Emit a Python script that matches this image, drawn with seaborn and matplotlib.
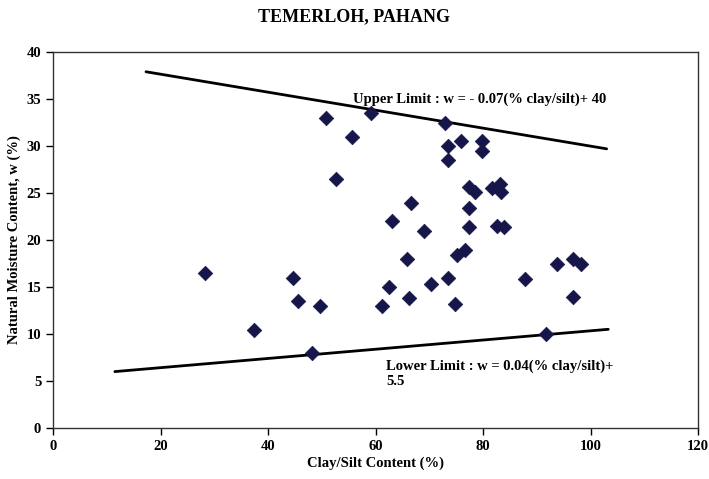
import matplotlib
matplotlib.use("Agg")
import matplotlib.pyplot as plt
import seaborn as sns
import pandas as pd

# clay/silt content (%) vs natural moisture content (%)
clay_silt = [28.3, 37.4, 44.7, 45.6, 48.2, 49.7, 50.8, 52.7, 55.6, 59.2,
             61.2, 62.5, 63.1, 65.9, 66.2, 66.6, 69.0, 70.3, 72.9, 73.5,
             73.5, 73.5, 74.8, 75.2, 75.9, 76.7, 77.4, 77.4, 77.4, 78.5,
             79.8, 79.8, 81.7, 82.6, 83.2, 83.3, 83.9, 87.8, 91.7, 93.8,
             96.7, 96.7, 98.2]
moisture = [16.5, 10.4, 16.0, 13.5, 8.0, 13.0, 33.0, 26.5, 31.0, 33.5,
            13.0, 15.0, 22.0, 18.0, 13.8, 23.9, 21.0, 15.3, 32.4, 30.0,
            28.5, 16.0, 13.2, 18.4, 30.5, 18.9, 25.6, 23.4, 21.4, 25.1,
            30.5, 29.5, 25.5, 21.5, 26.0, 25.1, 21.4, 15.9, 10.0, 17.4,
            13.9, 18.0, 17.4]

# limit lines as drawn in the figure (end points)
upper_x = [17.3, 103.0]
upper_y = [37.9, 29.7]
lower_x = [11.5, 103.3]
lower_y = [6.0, 10.5]

df = pd.DataFrame({"clay": clay_silt, "w": moisture})

sns.set_style("white")
plt.rcParams["font.family"] = ["Liberation Serif", "DejaVu Serif"]
plt.rcParams["font.weight"] = "bold"
plt.rcParams["text.color"] = "black"
plt.rcParams["axes.labelcolor"] = "black"

fig = plt.figure(figsize=(7.09, 4.79), dpi=100)
ax = fig.add_axes([0.0748, 0.1065, 0.9097, 0.7849])

sns.lineplot(x=upper_x, y=upper_y, ax=ax, color="black", linewidth=2)
sns.lineplot(x=lower_x, y=lower_y, ax=ax, color="black", linewidth=2)
sns.scatterplot(data=df, x="clay", y="w", ax=ax, marker="D", s=55,
                color="#16164a", edgecolor="#16164a", linewidth=0.5, zorder=3)

ax.set_xlim(0, 120)
ax.set_ylim(0, 40)
ax.set_xticks(range(0, 121, 20))
ax.set_yticks(range(0, 41, 5))
ax.tick_params(axis="both", direction="out", length=5, width=1, labelsize=10.5,
               left=True, bottom=True, colors="black")
for lab in ax.get_xticklabels() + ax.get_yticklabels():
    lab.set_fontweight("bold")
for sp in ax.spines.values():
    sp.set_color("#333333")
    sp.set_linewidth(1)

ax.set_xlabel("Clay/Silt Content (%)", fontsize=10.5, fontweight="bold", labelpad=3)
ax.set_ylabel("Natural Moisture Content, w (%)", fontsize=10.5, fontweight="bold", labelpad=4)

ax.text(55.8, 35.0, "Upper Limit : w = - 0.07(% clay/silt)+ 40",
        fontsize=10.5, fontweight="bold", va="center")
ax.text(62.0, 6.6, "Lower Limit : w = 0.04(% clay/silt)+",
        fontsize=10.5, fontweight="bold", va="center")
ax.text(62.0, 4.9, "5.5", fontsize=10.5, fontweight="bold", va="center")

fig.text(0.5, 0.965, "TEMERLOH, PAHANG", ha="center", va="center",
         fontsize=13, fontweight="bold")

fig.savefig("out.png", dpi=100)
